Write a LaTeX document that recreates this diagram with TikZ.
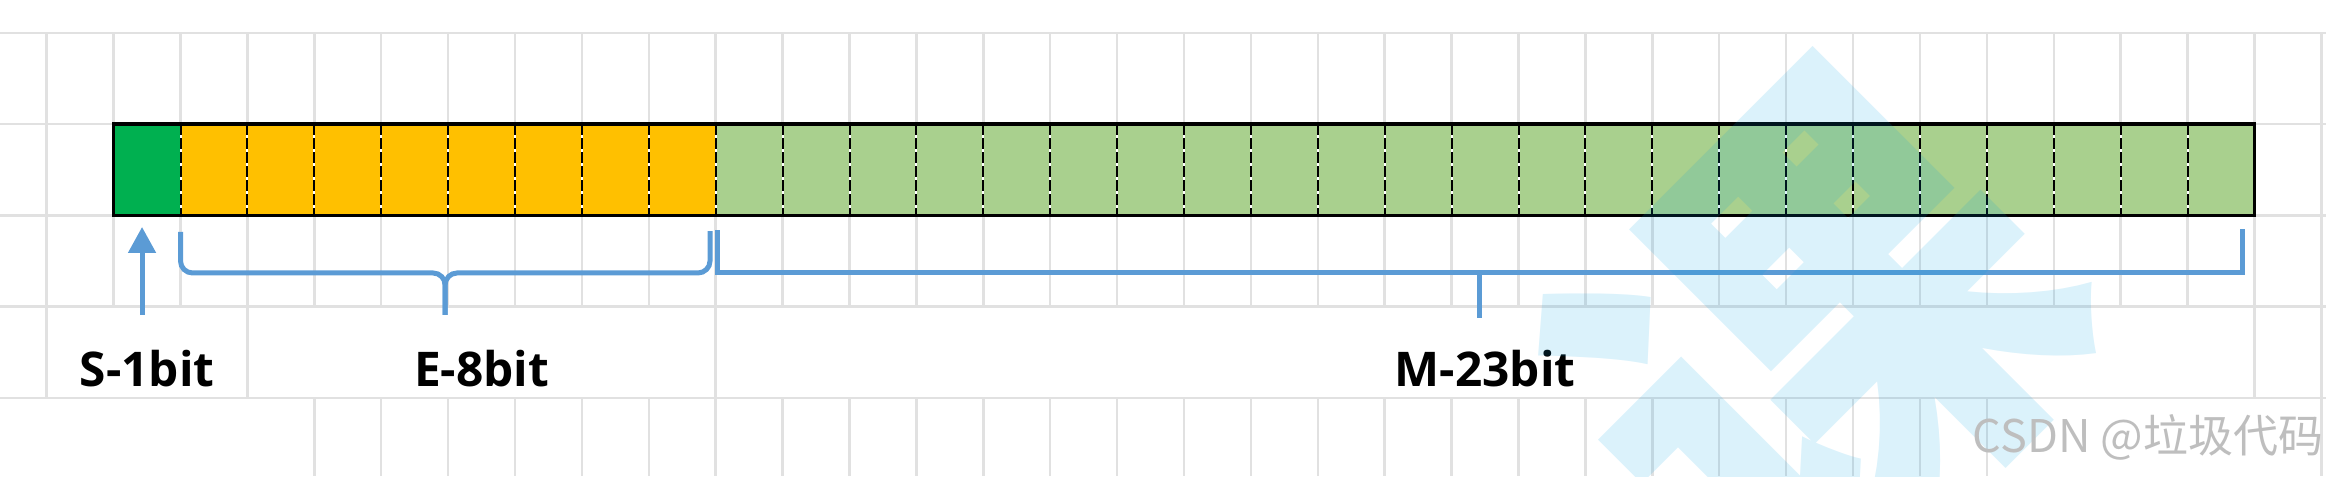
\documentclass[tikz,border=0pt]{standalone}
\usepackage{fontspec}
\setmainfont{Open Sans}
\newfontfamily\cjk{Noto Sans CJK SC}
\usetikzlibrary{arrows.meta,calc}
\definecolor{sgnc}{RGB}{0,176,80}
\definecolor{expc}{RGB}{255,192,0}
\definecolor{manc}{RGB}{169,208,142}
\definecolor{bracec}{RGB}{91,155,213}
\definecolor{gridc}{RGB}{225,225,225}
\definecolor{wmarkc}{RGB}{0,160,226}
\definecolor{csdnc}{RGB}{190,190,190}
\tikzset{
  bit/.style={rectangle,inner sep=0,outer sep=0,minimum width=6.69mm,minimum height=9.125mm},
  sepl/.style={line width=.2mm,dash pattern=on 1.1mm off .3mm},
  gridl/.style={gridc,line width=.25mm},
  brc/.style={bracec,line width=.5mm},
  lbl/.style={anchor=base,inner sep=0,font=\bfseries\fontsize{13.6pt}{16pt}\selectfont},
}

\begin{document}
\begin{tikzpicture}[x=6.69mm,y=-9.125mm]
\useasboundingbox(-.698,-.3616)rectangle(34.07,4.855);
% sheet grid
\foreach \y in {0,...,4}\draw[gridl](-.698,\y)--(34.07,\y);
\foreach \x in {0,...,34}\draw[gridl](\x,0)--(\x,3);
\foreach \x in {0,3,10,33,34}\draw[gridl](\x,3)--(\x,4);
\foreach \x in {4,...,29}\draw[gridl](\x,4)--(\x,4.855);
\draw[gridl](34,4)--(34,4.855);
% bits: sign, exponent, mantissa
\node[bit,fill=sgnc](s)at(1.5,1.5){};
\foreach \i in {1,...,8}\node[bit,fill=expc](e\i)at(1.5+\i,1.5){};
\foreach \i in {1,...,23}\node[bit,fill=manc](m\i)at(9.5+\i,1.5){};
\foreach \x in {2,...,32}{\draw[white,line width=.2mm](\x,1)--(\x,2);\draw[sepl](\x,1)--(\x,2);}
\draw[line width=.35mm](s.north west)rectangle(m23.south east);
% labels
\node[lbl](ls)at(1.5,3.879){S-1bit};
\node[lbl](le)at(6.5,3.879){E-8bit};
\node[lbl](lm)at(21.5,3.879){M-23bit};
% arrow and braces
\draw[brc,-{Triangle[length=2.6mm,width=2.7mm]},shorten <=3.5mm,shorten >=1.15mm]([xshift=-.5mm]ls.north)--([xshift=-.5mm]s.south);
\draw[brc,rounded corners=1.2mm]($(e1.south west)+(0,.18)$)|-(5.955,2.63)--(5.955,3.09);
\draw[brc,rounded corners=1.2mm]($(e8.south east)+(-.085,.17)$)|-(5.955,2.63)--(5.955,3.09);
\draw[brc]($(m1.south west)+(.02,.16)$)|-($(m23.south east)+(-.185,.63)$)--($(m23.south east)+(-.185,.15)$);
\draw[brc]($(m1.south west)!.5!(m23.south east)+(-.08,.63)$)--++(0,.49);
% watermarks
\node[wmarkc,opacity=.14,rotate=45,inner sep=0,font=\cjk\bfseries\fontsize{136pt}{136pt}\selectfont](wm)at(26.45,3.37){课};
\node[csdnc,anchor=base west,inner sep=0,font=\cjk\fontsize{12.8pt}{14pt}\selectfont](csdn)at(28.78,4.592){CSDN @垃圾代码};
\end{tikzpicture}
\end{document}
